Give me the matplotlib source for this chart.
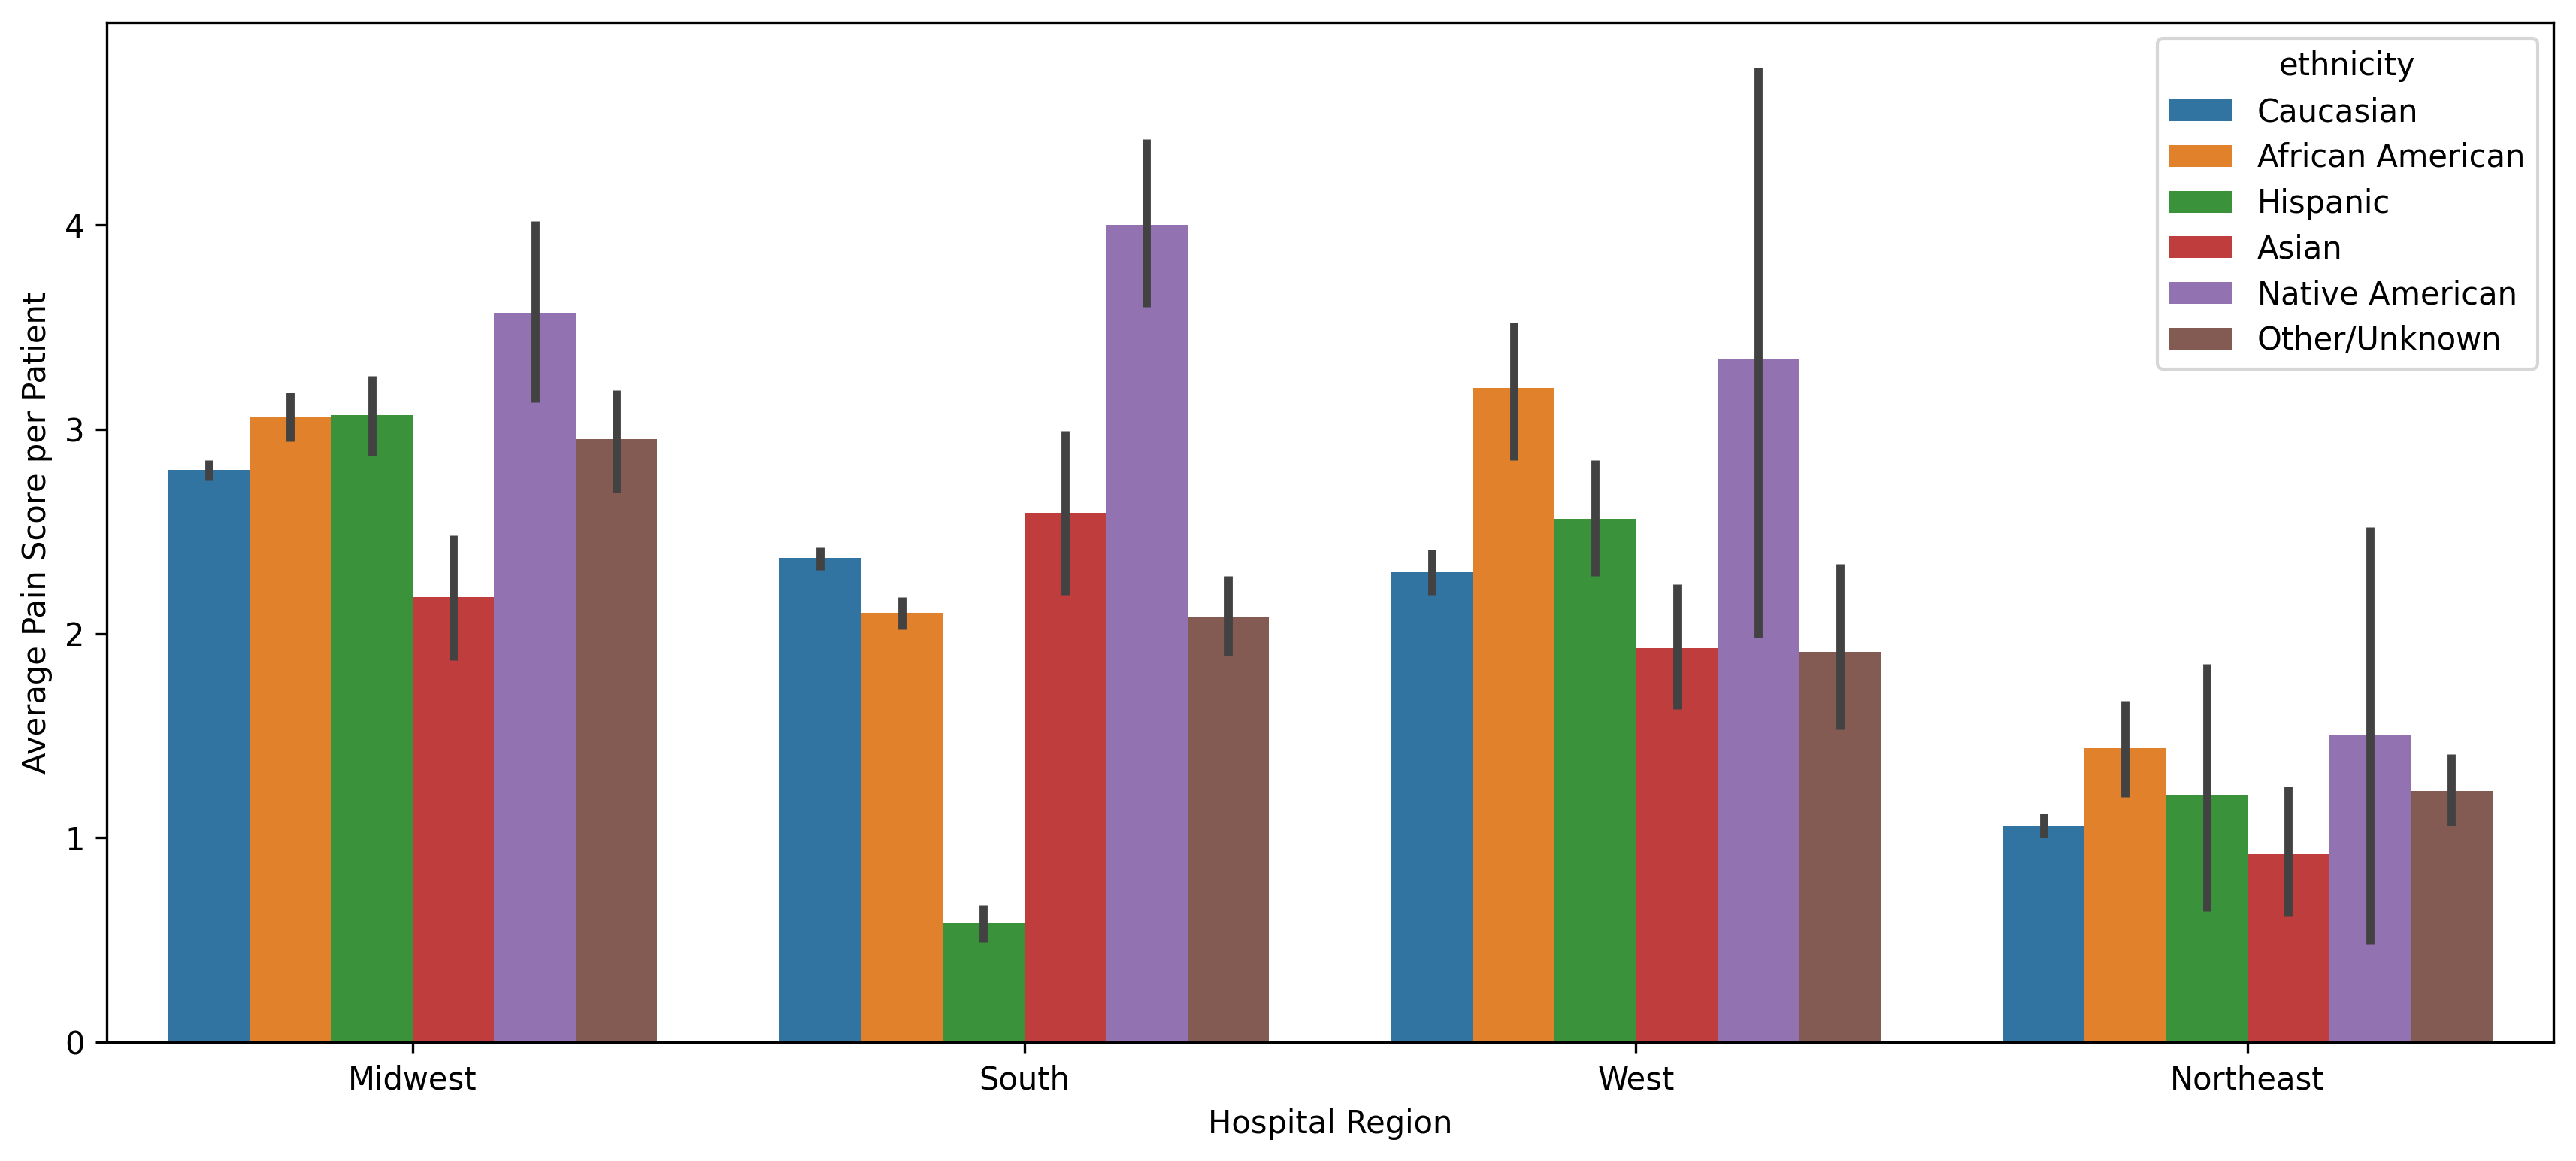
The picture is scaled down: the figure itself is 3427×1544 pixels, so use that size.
import matplotlib
matplotlib.use("Agg")
import matplotlib.pyplot as plt
import numpy as np

regions = ["Midwest", "South", "West", "Northeast"]
ethnicities = ["Caucasian", "African American", "Hispanic", "Asian",
               "Native American", "Other/Unknown"]

# mean pain score per region, one row per ethnicity (same order as regions)
means = {
    "Caucasian":        [2.80, 2.37, 2.30, 1.06],
    "African American": [3.06, 2.10, 3.20, 1.44],
    "Hispanic":         [3.07, 0.58, 2.56, 1.21],
    "Asian":            [2.18, 2.59, 1.93, 0.92],
    "Native American":  [3.57, 4.00, 3.34, 1.50],
    "Other/Unknown":    [2.95, 2.08, 1.91, 1.23],
}
# 95% CI low / high
ci_low = {
    "Caucasian":        [2.75, 2.31, 2.19, 1.00],
    "African American": [2.94, 2.02, 2.85, 1.20],
    "Hispanic":         [2.87, 0.49, 2.28, 0.64],
    "Asian":            [1.87, 2.19, 1.63, 0.62],
    "Native American":  [3.13, 3.60, 1.98, 0.48],
    "Other/Unknown":    [2.69, 1.89, 1.53, 1.06],
}
ci_high = {
    "Caucasian":        [2.85, 2.42, 2.41, 1.12],
    "African American": [3.18, 2.18, 3.52, 1.67],
    "Hispanic":         [3.26, 0.67, 2.85, 1.85],
    "Asian":            [2.48, 2.99, 2.24, 1.25],
    "Native American":  [4.02, 4.42, 4.77, 2.52],
    "Other/Unknown":    [3.19, 2.28, 2.34, 1.41],
}

# tab10 desaturated (seaborn barplot look)
colors = ["#3274a1", "#e1812c", "#3a923a", "#c03d3e", "#9372b2", "#845b53"]

fig = plt.figure(figsize=(3427 / 300, 1544 / 300), dpi=300)
ax = fig.add_axes([142 / 3427, 158 / 1544, 3255 / 3427, 1356 / 1544])

x = np.arange(len(regions))
n = len(ethnicities)
w = 0.8 / n
for i, eth in enumerate(ethnicities):
    pos = x - 0.4 + w * (i + 0.5)
    ax.bar(pos, means[eth], width=w, color=colors[i], label=eth, linewidth=0)
    for p, lo, hi in zip(pos, ci_low[eth], ci_high[eth]):
        ax.plot([p, p], [lo, hi], color="#424242", lw=2.6,
                solid_capstyle="butt", zorder=3)

ax.set_xticks(x)
ax.set_xticklabels(regions)
ax.set_xlim(-0.5, len(regions) - 0.5)
ax.set_ylim(0, 4.99)
ax.set_xlabel("Hospital Region")
ax.set_ylabel("Average Pain Score per Patient")
ax.legend(title="ethnicity", loc="upper right", labelspacing=0.45)

fig.savefig("out.png", dpi=300)
